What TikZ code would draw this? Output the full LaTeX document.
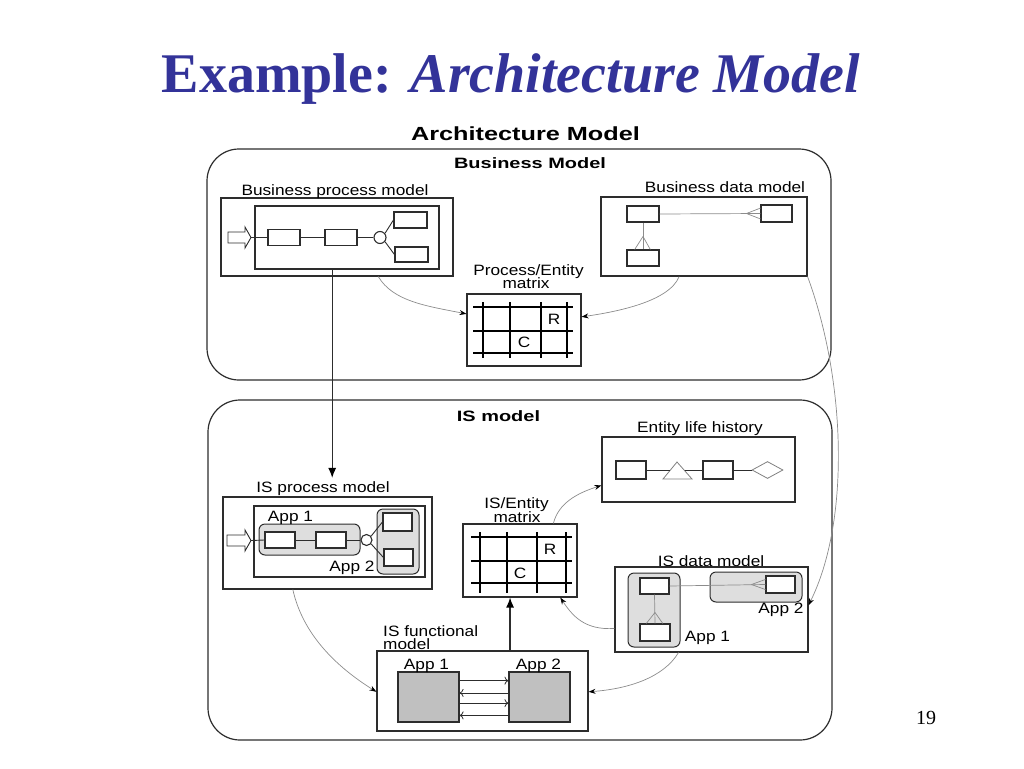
\documentclass[tikz,border=0pt]{standalone}
\usepackage{fontspec}
\setmainfont{Liberation Serif}
\newfontfamily\labfont[FakeStretch=1.15]{Liberation Sans}
\newfontfamily\hdfont[FakeStretch=1.33]{Liberation Sans}
\usetikzlibrary{fit,calc,arrows.meta,shapes.geometric}
\definecolor{titleblue}{RGB}{51,51,153}
\definecolor{lineg}{RGB}{45,45,45}
\definecolor{curveg}{RGB}{140,140,140}
\definecolor{lightfill}{RGB}{222,222,222}
\definecolor{midfill}{RGB}{192,192,192}
\begin{document}
\begin{tikzpicture}[x=1pt,y=-1pt,
  bx/.style={draw=lineg, line width=1.1pt, inner sep=0pt},
  ent/.style={draw=lineg, line width=1.1pt, fill=white, inner sep=0pt},
  grp/.style={draw=lineg, line width=1pt, fill=lightfill, rounded corners=6pt, inner sep=0pt},
  appbox/.style={draw=lineg, line width=1.1pt, fill=midfill, inner sep=0pt},
  frame/.style={draw=lineg, line width=1.2pt, rounded corners=32pt, inner sep=0pt},
  lab/.style={inner sep=0pt, anchor=base, font=\labfont\fontsize{15}{17}\selectfont},
  hd/.style={inner sep=0pt, anchor=base, font=\hdfont\bfseries\fontsize{15}{17}\selectfont},
  link/.style={draw=curveg, line width=0.7pt, -{Stealth[length=7pt,width=5pt,black]}},
  thinline/.style={draw=lineg, line width=0.9pt},
  crow/.style={draw=curveg, line width=0.7pt},
  gridline/.style={draw=black, line width=1.1pt},
  hollow/.style={draw=lineg, line width=0.9pt, fill=white},
  bigarrow/.style={draw=lineg, line width=1.2pt, -{Latex[length=10pt,width=8pt,black]}},
  farrow/.style={draw=lineg, line width=0.8pt, -{To[length=4pt,width=8pt]}},
  rfarrow/.style={draw=lineg, line width=0.8pt, {To[length=4pt,width=8pt]}-},
]
\useasboundingbox (0,0) rectangle (1024,768);

% title
\node[anchor=base, inner sep=0pt, text=titleblue, font=\bfseries\fontsize{56}{60}\selectfont] (title) at (511,92) {Example: \textit{Architecture Model}};
\node[anchor=base, inner sep=0pt, font=\fontsize{20}{22}\selectfont] (pnum) at (926,724) {19};

\node[hd, font=\hdfont\bfseries\fontsize{19}{21}\selectfont] (archlab) at (525.5,140) {Architecture Model};

% ---------------- Business model ----------------
\node[frame, fit={(207,149) (831,380)}] (bmf) {};
\node[hd] (bmlab) at (530,168) {Business Model};

% business process model
\node[bx, fit={(221,198) (453,276)}] (bpm) {};
\node[lab] (bpmlab) at (335,195) {Business process model};
\node[bx, fit={(255,206) (439,269)}] (bpmin) {};
\draw[hollow] (228,232) -- (245,232) -- (245,227) -- (251,237.5) -- (245,248) -- (245,243) -- (228,243) -- cycle;
\coordinate (bpa) at (251,237.5);
\node[ent, fit={(268,229.5) (300,245.5)}] (b1) {};
\node[ent, fit={(325,229.5) (357,245.5)}] (b2) {};
\node[ent, circle, minimum size=12pt] (bc) at (380,237.5) {};
\node[ent, fit={(394,212) (427,228)}] (b3) {};
\node[ent, fit={(395,247) (428,262)}] (b4) {};
\draw[thinline] (bpa) -- (b1.west);
\draw[thinline] (b1) -- (b2);
\draw[thinline] (b2) -- (bc);
\draw[thinline] (bc.40) -- (b3.west);
\draw[thinline] (bc.-40) -- (b4.west);

% process/entity matrix
\node[lab] (pelab1) at (528.5,275) {Process/Entity};
\node[lab] (pelab2) at (526,288) {matrix};
\node[bx, fit={(467,294) (581,366)}] (pem) {};
\foreach \xx in {483,510,541,567} \draw[gridline] (\xx,302) -- (\xx,358);
\foreach \yy in {307,331,353} \draw[gridline] (473,\yy) -- (573,\yy);
\node[lab] (per) at (554,324) {R};
\node[lab] (pec) at (524,347) {C};

% business data model
\node[bx, fit={(601,197) (807,276)}] (bdm) {};
\node[lab] (bdmlab) at (725,192) {Business data model};
\node[ent, fit={(627,206) (659,222)}] (e1) {};
\node[ent, fit={(761,205) (792,222)}] (e2) {};
\node[ent, fit={(627,250) (659,266)}] (e3) {};
\coordinate (e2c) at ($(e2.west)+(-14,0)$);
\draw[crow] (e1.east) -- (e2.west);
\draw[crow] (e2c) -- ($(e2.north west)!0.2!(e2.south west)$);
\draw[crow] (e2c) -- ($(e2.north west)!0.8!(e2.south west)$);
\coordinate (e3c) at ($(e3.north)+(0,-13)$);
\draw[crow] (e1.south) -- (e3.north);
\draw[crow] (e3c) -- ($(e3.north west)!0.25!(e3.north east)$);
\draw[crow] (e3c) -- ($(e3.north west)!0.72!(e3.north east)$);

% ---------------- IS model ----------------
\node[frame, fit={(208,400) (832,740)}] (ismf) {};
\node[hd] (ismlab) at (498.5,421) {IS model};

% IS process model
\node[lab] (ispl) at (323,492) {IS process model};
\node[bx, fit={(223,497) (432,589)}] (ipm) {};
\node[bx, fit={(254,506) (425,577)}] (ipmin) {};
\node[grp, fit={(259,524) (360,555)}] (ipa1) {};
\node[grp, fit={(377,509) (419,574)}] (ipa2) {};
\node[lab] (ipa1lab) at (290.5,521) {App 1};
\node[lab] (ipa2lab) at (352,571) {App 2};
\draw[hollow] (227,535) -- (245,535) -- (245,530) -- (251,540.5) -- (245,551) -- (245,546) -- (227,546) -- cycle;
\coordinate (ipa) at (251,540.5);
\node[ent, fit={(265,532) (295,548)}] (p1) {};
\node[ent, fit={(316,532) (346,548)}] (p2) {};
\node[ent, circle, minimum size=11pt] (pc) at (366.5,540) {};
\node[ent, fit={(383,513) (412,531)}] (p3) {};
\node[ent, fit={(384,549) (413,566)}] (p4) {};
\draw[thinline] (ipa) -- (p1.west);
\draw[thinline] (p1) -- (p2);
\draw[thinline] (p2) -- (pc);
\draw[thinline] (pc.40) -- (p3.west);
\draw[thinline] (pc.-40) -- (p4.west);

% IS/Entity matrix
\node[lab] (iel1) at (516.5,508) {IS/Entity};
\node[lab] (iel2) at (517,522) {matrix};
\node[bx, fit={(463,524) (577,597)}] (iem) {};
\foreach \xx in {480,507,537,566} \draw[gridline] (\xx,532) -- (\xx,593);
\foreach \yy in {537,561,583} \draw[gridline] (471,\yy) -- (572,\yy);
\node[lab] (ier) at (550,554) {R};
\node[lab] (iec) at (520,578) {C};

% Entity life history
\node[lab] (elhlab) at (700,432) {Entity life history};
\node[bx, fit={(602,437) (795,502)}] (elh) {};
\node[ent, fit={(616,461) (646,479)}] (h1) {};
\node[ent, fit={(703,461) (733,479)}] (h2) {};
\draw[draw=gray, line width=0.8pt] (663,479) -- (677,462) -- (692,479) -- cycle;
\coordinate (tl) at (670,470);
\coordinate (tr) at (684.5,470);
\node[diamond, draw=gray, line width=0.8pt, inner sep=0pt, minimum width=31pt, minimum height=17pt] (hd1) at (767.5,470) {};
\draw[thinline] (h1.east) -- (tl);
\draw[thinline] (tr) -- (h2.west);
\draw[thinline] (h2.east) -- (hd1.west);

% IS data model
\node[lab] (idml) at (711,566) {IS data model};
\node[bx, fit={(615,567) (808,652)}] (idm) {};
\node[grp, fit={(628,573) (680,647)}] (ida1) {};
\node[grp, fit={(710,572) (802,602)}] (ida2) {};
\node[lab] (ida2lab) at (781,613) {App 2};
\node[lab] (ida1lab) at (707.5,641) {App 1};
\node[ent, fit={(640,578) (669,594)}] (d1) {};
\node[ent, fit={(640,624) (670,641)}] (d2) {};
\node[ent, fit={(766,576) (795,593)}] (d3) {};
\coordinate (d3c) at ($(d3.west)+(-14,0)$);
\draw[crow] (d1.east) -- (d3.west);
\draw[crow] (d3c) -- ($(d3.north west)!0.22!(d3.south west)$);
\draw[crow] (d3c) -- ($(d3.north west)!0.78!(d3.south west)$);
\coordinate (d2c) at ($(d2.north)+(0,-11)$);
\draw[crow] (d1.south) -- (d2.north);
\draw[crow] (d2c) -- ($(d2.north west)!0.22!(d2.north east)$);
\draw[crow] (d2c) -- ($(d2.north west)!0.75!(d2.north east)$);

% IS functional model
\node[lab, anchor=base west] (ifl1) at (383,636) {IS functional};
\node[lab, anchor=base west] (ifl2) at (383,649) {model};
\node[bx, fit={(377,651) (588,731)}] (ifm) {};
\node[appbox, fit={(398,672) (459,722)}] (f1) {};
\node[appbox, fit={(509,672) (570,722)}] (f2) {};
\node[lab] (f1lab) at (426.5,669) {App 1};
\node[lab] (f2lab) at (538.5,669) {App 2};
\coordinate (fa) at ($(f1.north east)!0.18!(f1.south east)$);
\coordinate (fb) at ($(f1.north east)!0.42!(f1.south east)$);
\coordinate (fc) at ($(f1.north east)!0.62!(f1.south east)$);
\coordinate (fd) at ($(f1.north east)!0.86!(f1.south east)$);
\draw[farrow] (fa) -- (fa -| f2.west);
\draw[rfarrow] (fb) -- (fb -| f2.west);
\draw[farrow] (fc) -- (fc -| f2.west);
\draw[rfarrow] (fd) -- (fd -| f2.west);

% ---------------- connectors ----------------
\coordinate (va) at ($(bpmin.south west)!0.42!(bpmin.south east)$);
\draw[bigarrow, shorten >=3pt] (va) -- (va |- ispl.north);
\coordinate (vb) at ($(ifm.north west)!0.63!(ifm.north east)$);
\draw[bigarrow] (vb) -- (vb |- iem.south);

\draw[link] ($(bpm.south west)!0.677!(bpm.south east)$) .. controls +(15,25) and +(-40,-8) .. ($(pem.north west)!0.28!(pem.south west)$);
\draw[link] ($(bdm.south west)!0.38!(bdm.south east)$) .. controls +(-10,25) and +(35,-5) .. ($(pem.north east)!0.32!(pem.south east)$);
\draw[link] (bdm.south east) .. controls +(38,103) and +(42,-85) .. ($(idm.north east)!0.45!(idm.south east)$);
\draw[link] ($(iem.north west)!0.79!(iem.north east)$) .. controls +(5,-20) and +(-25,8) .. ($(elh.north west)!0.74!(elh.south west)$);
\draw[link] ($(idm.north west)!0.72!(idm.south west)$) .. controls +(-30,2) and +(12,18) .. ($(iem.south west)!0.85!(iem.south east)$);
\draw[link] ($(ipm.south west)!0.335!(ipm.south east)$) .. controls +(10,45) and +(-40,-25) .. ($(ifm.north west)!0.51!(ifm.south west)$);
\draw[link] ($(idm.south west)!0.33!(idm.south east)$) .. controls +(-15,25) and +(40,-3) .. ($(ifm.north east)!0.51!(ifm.south east)$);
\end{tikzpicture}
\end{document}
